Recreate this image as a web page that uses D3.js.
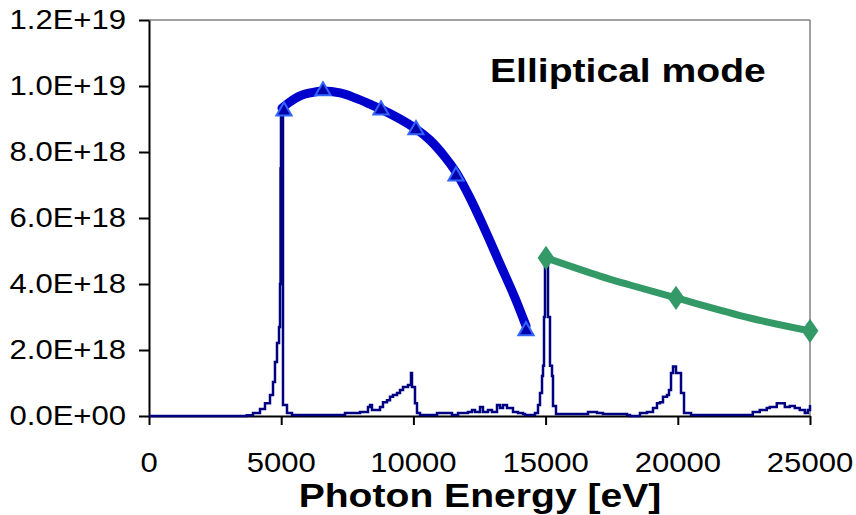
<!DOCTYPE html>
<html>
<head>
<meta charset="utf-8">
<script src="https://cdn.jsdelivr.net/npm/d3@7"></script>
<style>
  body { margin: 0; background: #fff; }
  text { font-family: 'Liberation Sans', Arial, sans-serif; }
</style>
</head>
<body>
<div id="chart"></div>
<script>
// data (energy in eV, flux in units of 1E18)
const yTickValues = [0, 2, 4, 6, 8, 10, 12];
const yTickLabels = ['0.0E+00', '2.0E+18', '4.0E+18', '6.0E+18', '8.0E+18', '1.0E+19', '1.2E+19'];
const xTickValues = [0, 5000, 10000, 15000, 20000, 25000];

const spectrumEnergy = [0, 3700, 3933, 4198, 4387, 4576, 4690, 4765, 4841, 4917, 4955, 4975, 4992, 5040, 5068, 5219, 5408,
  7413, 7980, 8283, 8359, 8434, 8548, 8737, 8850, 9002, 9115, 9228, 9380, 9493, 9607, 9796, 9909, 9947, 10060, 10136, 10250,
  10893, 11460, 11687, 12065, 12216, 12330, 12519, 12632, 12822, 12973, 13162, 13275, 13389, 13540, 13654, 13767, 13956, 14145, 14221,
  14599, 14713, 14788, 14864, 14902, 14940, 14977, 15053, 15091, 15166, 15242, 15280, 15393,
  16112, 16604, 16944, 17171, 18079, 18192, 18570, 18835, 19062, 19213, 19327, 19440, 19592, 19667, 19743, 19819, 19932, 20046, 20121, 20235,
  20500, 22600, 22836, 23100, 23365, 23479, 23744, 23933, 24047, 24236, 24425, 24614, 24803, 24917, 25000];
const spectrumFlux = [0, 0.02, 0.09, 0.21, 0.39, 0.64, 1.03, 1.64, 2.21, 2.7, 4.0, 7.5, 9.2, 9.2, 0.33, 0.09, 0.03,
  0.09, 0.12, 0.27, 0.33, 0.18, 0.18, 0.27, 0.42, 0.48, 0.58, 0.64, 0.7, 0.79, 0.88, 0.94, 1.3, 0.88, 0.39, 0.09, 0.03,
  0.09, 0.03, 0.09, 0.12, 0.18, 0.12, 0.27, 0.12, 0.18, 0.12, 0.33, 0.24, 0.33, 0.24, 0.24, 0.12, 0.09, 0.06, 0.03,
  0.09, 0.33, 0.7, 1.21, 1.52, 3.0, 4.8, 4.8, 3.0, 1.52, 1.21, 0.3, 0.06,
  0.06, 0.12, 0.09, 0.06, 0.03, 0.0, 0.09, 0.12, 0.24, 0.39, 0.42, 0.58, 0.64, 0.79, 1.3, 1.5, 1.3, 1.3, 0.7, 0.09,
  0.03, 0.03, 0.12, 0.18, 0.24, 0.27, 0.39, 0.39, 0.27, 0.3, 0.24, 0.18, 0.09, 0.18, 0.33];

const blueEnergy = [5030, 5333, 5711, 6089, 6581, 7224, 7791, 8359, 8775, 9493, 10098, 10628, 11195, 11611, 12141, 12708, 13275, 13843, 14259];
const blueFlux = [9.33, 9.52, 9.70, 9.79, 9.85, 9.79, 9.64, 9.45, 9.30, 9.00, 8.70, 8.36, 7.85, 7.39, 6.61, 5.64, 4.61, 3.58, 2.73];
const triangleEnergy = [5106, 6581, 8775, 10098, 11611, 14259];
const triangleFlux = [9.24, 9.85, 9.27, 8.67, 7.27, 2.58];

const greenEnergy = [15015, 17057, 18192, 19932, 22731, 25000];
const greenFlux = [4.79, 4.24, 3.97, 3.58, 2.97, 2.58];
const diamondEnergy = [15015, 19932, 25000];
const diamondFlux = [4.79, 3.58, 2.58];

const WIDTH = 856;
const HEIGHT = 515;
const margin = { top: 20, right: 46, bottom: 99, left: 149 };
const plotW = WIDTH - margin.left - margin.right;
const plotH = HEIGHT - margin.top - margin.bottom;
const STRETCH = 1.15; // labels in the picture are a bit wide

const svg = d3.select('#chart')
  .append('svg')
  .attr('width', WIDTH)
  .attr('height', HEIGHT);

const g = svg.append('g')
  .attr('transform', `translate(${margin.left},${margin.top})`);

const xScale = d3.scaleLinear().domain([0, 25000]).range([0, plotW]);
const yScale = d3.scaleLinear().domain([0, 12]).range([plotH, 0]);

// gray frame on top and right
g.append('line')
  .attr('x1', 0).attr('x2', plotW).attr('y1', 0).attr('y2', 0)
  .attr('stroke', '#808080').attr('stroke-width', 1.5);
g.append('line')
  .attr('x1', plotW).attr('x2', plotW).attr('y1', 0).attr('y2', plotH)
  .attr('stroke', '#808080').attr('stroke-width', 1.5);

// axes
const xAxis = d3.axisBottom(xScale).tickValues(xTickValues).tickSize(9).tickSizeOuter(0).tickFormat('');
const yAxis = d3.axisLeft(yScale).tickValues(yTickValues).tickSize(10).tickSizeOuter(0).tickFormat('');

const xg = g.append('g').attr('transform', `translate(0,${plotH})`).call(xAxis);
const yg = g.append('g').call(yAxis);
[xg, yg].forEach(a => {
  a.select('.domain').attr('stroke', '#000').attr('stroke-width', 2);
  a.selectAll('.tick line').attr('stroke', '#000').attr('stroke-width', 2);
});

// tick labels
g.selectAll('.ylab')
  .data(yTickValues)
  .enter()
  .append('text')
  .attr('class', 'ylab')
  .attr('text-anchor', 'end')
  .attr('dominant-baseline', 'central')
  .style('font-size', '27px')
  .attr('transform', d => `translate(-23,${yScale(d)}) scale(${STRETCH},1)`)
  .text((d, i) => yTickLabels[i]);

g.selectAll('.xlab')
  .data(xTickValues)
  .enter()
  .append('text')
  .attr('class', 'xlab')
  .attr('text-anchor', 'middle')
  .style('font-size', '27px')
  .attr('transform', d => `translate(${xScale(d)},${plotH + 56}) scale(${STRETCH},1)`)
  .text(d => d);

// axis title
svg.append('text')
  .attr('text-anchor', 'middle')
  .style('font-size', '34px')
  .style('font-weight', 'bold')
  .attr('transform', `translate(480,507) scale(${STRETCH},1)`)
  .text('Photon Energy [eV]');

// mode label
svg.append('text')
  .attr('text-anchor', 'start')
  .style('font-size', '34px')
  .style('font-weight', 'bold')
  .attr('transform', `translate(490,82) scale(${STRETCH},1)`)
  .text('Elliptical mode');

// spectrum
const spectrum = spectrumEnergy.map((e, i) => ({ e, v: spectrumFlux[i] }));
const stepLine = d3.line()
  .x(d => xScale(d.e))
  .y(d => yScale(d.v))
  .curve(d3.curveStepAfter);
g.append('path')
  .datum(spectrum)
  .attr('d', stepLine)
  .attr('fill', 'none')
  .attr('stroke', '#000080')
  .attr('stroke-width', 2.5);

// blue flux curve
const line = d3.line()
  .x(d => xScale(d.e))
  .y(d => yScale(d.v))
  .curve(d3.curveCatmullRom);
const blue = blueEnergy.map((e, i) => ({ e, v: blueFlux[i] }));
g.append('path')
  .datum(blue)
  .attr('d', line)
  .attr('fill', 'none')
  .attr('stroke', '#0000CC')
  .attr('stroke-width', 9)
  .attr('stroke-linecap', 'round');

const tri = d3.symbol().type(d3.symbolTriangle).size(100);
g.selectAll('.tri')
  .data(triangleEnergy.map((e, i) => ({ e, v: triangleFlux[i] })))
  .enter()
  .append('path')
  .attr('class', 'tri')
  .attr('d', tri)
  .attr('transform', d => `translate(${xScale(d.e)},${yScale(d.v)})`)
  .attr('fill', '#0000AA')
  .attr('stroke', '#3366FF')
  .attr('stroke-width', 2);

// green curve
const green = greenEnergy.map((e, i) => ({ e, v: greenFlux[i] }));
g.append('path')
  .datum(green)
  .attr('d', line)
  .attr('fill', 'none')
  .attr('stroke', '#339966')
  .attr('stroke-width', 7);

const dia = d3.symbol().type(d3.symbolDiamond).size(170);
g.selectAll('.dia')
  .data(diamondEnergy.map((e, i) => ({ e, v: diamondFlux[i] })))
  .enter()
  .append('path')
  .attr('class', 'dia')
  .attr('d', dia)
  .attr('transform', d => `translate(${xScale(d.e)},${yScale(d.v)}) scale(1.2,1)`)
  .attr('fill', '#339966');
</script>
</body>
</html>
